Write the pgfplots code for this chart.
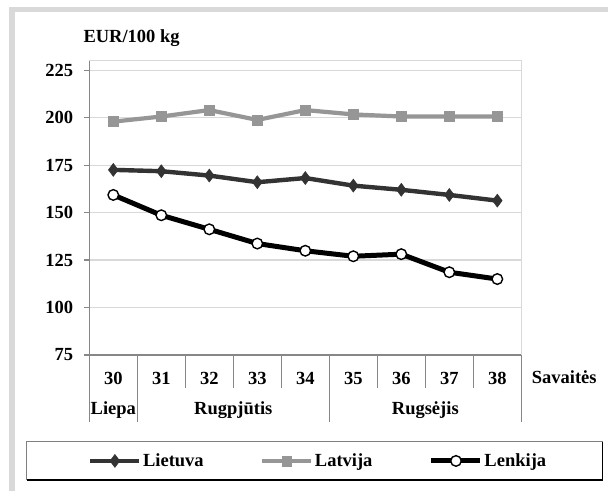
\documentclass[border=0pt]{standalone}
\usepackage{fontspec}
\setmainfont{Liberation Serif}
\usepackage{pgfplots}
\pgfplotsset{compat=1.18}
\definecolor{lt}{HTML}{333333}
\definecolor{lv}{HTML}{969696}
\definecolor{gridc}{HTML}{D9D9D9}
\definecolor{axc}{HTML}{878787}
\definecolor{framec}{HTML}{D9D9D9}
\newcommand\f{\fontsize{18.5bp}{22bp}\selectfont\bfseries}
\begin{document}
\begin{tikzpicture}
\useasboundingbox (0,0) rectangle (608bp,491bp);
\fill[white] (0,0) rectangle (608bp,491bp);
\draw[framec, line width=5.5bp] (11.8bp,0bp) -- (11.8bp,481.5bp) -- (608bp,481.5bp);
\begin{axis}[
  at={(89.3bp,136bp)}, anchor=south west,
  width=432bp, height=294.3bp, scale only axis,
  xmin=29.5, xmax=38.5, ymin=75, ymax=230,
  xtick={30,...,38}, ytick={75,100,...,225},
  ytick pos=left,
  major x tick style={draw=none},
  ytick style={axc, line width=1.2bp},
  major tick length=5bp, tick align=outside,
  ymajorgrids, grid style={gridc, line width=1.2bp},
  axis line style={gridc, line width=1.2bp},
  /pgf/number format/assume math mode=true,
  tick label style={font=\f},
  yticklabel style={anchor=east, inner sep=0pt, xshift=-11bp},
  xticklabel style={anchor=base, inner sep=0pt, yshift=-24bp},
  clip=false,
  legend columns=3,
  legend style={draw=none, fill=none, font=\f, inner sep=0pt,
    at={(-0.003,-0.360)}, anchor=west,
    nodes={inner sep=1.5bp},
    /tikz/every even column/.append style={column sep=55bp}},
  legend image code/.code={\draw[mark repeat=2, mark phase=2, #1] plot coordinates {(0bp,0bp) (24.5bp,0bp) (49bp,0bp)};},
]
\draw[axc, line width=1.2bp] (rel axis cs:0,1) -- (rel axis cs:0,0) -- (rel axis cs:1,0);
\draw[axc, line width=1.2bp] (axis cs:31.5,75) -- ([yshift=-33bp]axis cs:31.5,75);
\draw[axc, line width=1.2bp] (axis cs:32.5,75) -- ([yshift=-33bp]axis cs:32.5,75);
\draw[axc, line width=1.2bp] (axis cs:33.5,75) -- ([yshift=-33bp]axis cs:33.5,75);
\draw[axc, line width=1.2bp] (axis cs:35.5,75) -- ([yshift=-33bp]axis cs:35.5,75);
\draw[axc, line width=1.2bp] (axis cs:36.5,75) -- ([yshift=-33bp]axis cs:36.5,75);
\draw[axc, line width=1.2bp] (axis cs:37.5,75) -- ([yshift=-33bp]axis cs:37.5,75);
\draw[axc, line width=1.2bp] (axis cs:29.5,75) -- ([yshift=-67bp]axis cs:29.5,75);
\draw[axc, line width=1.2bp] (axis cs:30.5,75) -- ([yshift=-67bp]axis cs:30.5,75);
\draw[axc, line width=1.2bp] (axis cs:34.5,75) -- ([yshift=-67bp]axis cs:34.5,75);
\draw[axc, line width=1.2bp] (axis cs:38.5,75) -- ([yshift=-67bp]axis cs:38.5,75);
\addplot[lt, line width=4.4bp, mark=diamond*, mark size=6.5bp,
  mark options={solid, fill=lt, draw=lt, line width=0.5bp}]
  coordinates {(30,172.5) (31,171.8) (32,169.5) (33,166.0) (34,168.2) (35,164.2) (36,162.0) (37,159.3) (38,156.3)};
\addplot[lv, line width=4.2bp, mark=square*, mark size=4.9bp,
  mark options={solid, fill=lv, draw=lv, line width=0.5bp}]
  coordinates {(30,197.9) (31,200.6) (32,204.0) (33,198.8) (34,204.0) (35,201.7) (36,200.6) (37,200.6) (38,200.6)};
\addplot[black, line width=5bp, mark=*, mark size=5.3bp,
  mark options={solid, fill=white, draw=black, line width=1.4bp}]
  coordinates {(30,159.3) (31,148.6) (32,141.2) (33,133.7) (34,129.9) (35,127.0) (36,128.1) (37,118.6) (38,115.0)};
\legend{Lietuva, Latvija, Lenkija}
\node[font=\f, anchor=base, inner sep=0pt] at (axis cs:30,75) [yshift=-59bp] {Liepa};
\node[font=\f, anchor=base, inner sep=0pt] at (axis cs:32.5,75) [yshift=-59bp] {Rugpjūtis};
\node[font=\f, anchor=base, inner sep=0pt] at (axis cs:36.5,75) [yshift=-59bp] {Rugsėjis};
\end{axis}
\node[font=\f, anchor=base west, inner sep=0pt] at (83.3bp,448.3bp) {EUR/100 kg};
\node[font=\f, anchor=base west, inner sep=0pt] at (531.7bp,107.7bp) {Savaitės};
\draw[color=gray, line width=1.5bp] (26.7bp,11bp) -- (26.7bp,49.3bp) -- (602.7bp,49.3bp);
\draw[black, line width=1.2bp] (26.7bp,11bp) -- (602.7bp,11bp) -- (602.7bp,49.3bp);
\end{tikzpicture}
\end{document}
